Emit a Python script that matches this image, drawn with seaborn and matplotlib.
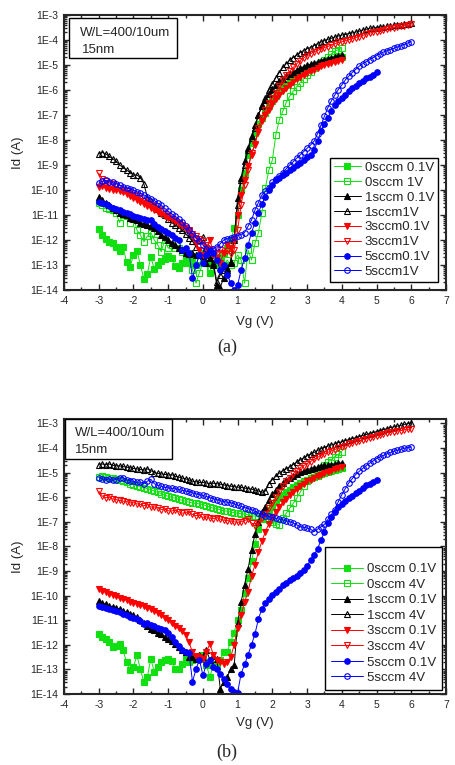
import numpy as np
import matplotlib
matplotlib.use("Agg")
import matplotlib.pyplot as plt
import seaborn as sns
from matplotlib.ticker import MultipleLocator, LogLocator, NullFormatter, FuncFormatter, FixedLocator
from matplotlib.patches import Rectangle

sns.set_style("ticks")
plt.rcParams['font.family'] = ['Liberation Sans', 'DejaVu Sans']
plt.rcParams['axes.unicode_minus'] = False

# gate-voltage grids (measurement sweep, 0.1 V step)
vg_to4 = np.round(np.arange(-3.0, 4.05, 0.1), 1)
vg_to5 = np.round(np.arange(-3.0, 5.05, 0.1), 1)
vg_to6 = np.round(np.arange(-3.0, 6.05, 0.1), 1)

# ---------------- panel (a): log10(Id / A) ----------------
a_0sccm_01V = [-11.57, -11.8, -11.95, -12.07, -12.13, -12.27, -12.43, -12.27, -12.87, -13.09,
               -12.6, -12.43, -13.0, -13.55, -13.36, -12.67, -13.17, -13.0, -12.85, -12.77,
               -12.64, -12.7, -13.04, -13.1, -12.9, -12.8, -12.9, -12.7, -13.0, -12.6,
               -12.5, -12.9, -13.3, -12.9, -13.0, -12.75, -12.5, -12.33, -12.0, -11.53,
               -11.0, -10.0, -9.3, -8.6, -8.1, -7.7, -7.35, -7.1, -6.9, -6.65,
               -6.45, -6.25, -6.05, -5.9, -5.78, -5.67, -5.53, -5.4, -5.3, -5.2,
               -5.13, -5.08, -5.03, -4.98, -4.93, -4.88, -4.83, -4.78, -4.74, -4.7,
               -4.67]
a_0sccm_1V = [-10.5, -10.6, -10.7, -10.75, -10.8, -10.93, -11.3, -11.0, -11.05, -11.3,
              -11.07, -11.6, -11.8, -12.07, -11.85, -11.7, -12.0, -12.2, -12.47, -12.0,
              -12.33, -12.2, -12.33, -12.3, -12.47, -12.73, -12.5, -13.2, -13.73, -13.3,
              -12.9, -12.8, -13.1, -12.9, -12.67, -12.9, -13.0, -12.8, -13.0, -12.9,
              -12.6, -12.8, -13.73, -12.4, -12.8, -12.13, -11.7, -10.9, -9.9, -9.2,
              -8.8, -7.8, -7.2, -6.85, -6.5, -6.25, -6.05, -5.87, -5.7, -5.55,
              -5.4, -5.27, -5.13, -5.0, -4.88, -4.78, -4.68, -4.55, -4.45, -4.38,
              -4.33]
a_1sccm_01V = [-10.27, -10.4, -10.5, -10.6, -10.7, -10.8, -10.9, -10.95, -11.0, -11.1,
               -11.15, -11.2, -11.3, -11.35, -11.4, -11.45, -11.5, -11.65, -11.8, -11.87,
               -12.0, -12.1, -12.2, -12.3, -12.4, -12.5, -12.55, -12.5, -12.6, -12.6,
               -12.65, -12.9, -12.7, -13.0, -13.8, -13.9, -13.5, -13.2, -12.87, -12.0,
               -10.3, -9.5, -8.85, -8.3, -7.85, -7.4, -7.0, -6.65, -6.4, -6.15,
               -5.95, -5.78, -5.65, -5.55, -5.45, -5.35, -5.27, -5.2, -5.13, -5.07,
               -5.02, -4.97, -4.92, -4.87, -4.83, -4.78, -4.74, -4.7, -4.67, -4.63,
               -4.6]
a_1sccm_1V = [-8.56, -8.5, -8.55, -8.65, -8.75, -8.85, -9.0, -9.1, -9.2, -9.3,
              -9.4, -9.4, -9.5, -9.75, -10.3, -10.45, -10.6, -10.75, -10.9, -11.0,
              -11.15, -11.3, -11.4, -11.5, -11.6, -11.75, -11.9, -12.05, -12.27, -12.0,
              -11.87, -12.3, -12.6, -12.9, -13.67, -13.4, -13.2, -13.13, -12.9, -11.9,
              -10.6, -9.6, -9.0, -8.4, -7.9, -7.5, -7.0, -6.6, -6.3, -6.0,
              -5.75, -5.5, -5.3, -5.1, -4.95, -4.8, -4.7, -4.6, -4.5, -4.42,
              -4.35, -4.3, -4.22, -4.15, -4.08, -4.03, -3.97, -3.93, -3.88, -3.84,
              -3.8, -3.78, -3.74, -3.72, -3.68, -3.65, -3.6, -3.57, -3.53, -3.52,
              -3.5, -3.48, -3.47, -3.45, -3.43, -3.41, -3.4, -3.38, -3.36, -3.34,
              -3.33]
a_3sccm_01V = [-9.87, -9.85, -9.9, -9.95, -9.98, -10.0, -10.05, -10.07, -10.15, -10.25,
               -10.3, -10.38, -10.47, -10.55, -10.62, -10.7, -10.78, -10.87, -10.95, -11.02,
               -11.1, -11.15, -11.22, -11.3, -11.4, -11.5, -11.6, -11.85, -12.1, -12.4,
               -12.6, -12.3, -12.0, -12.5, -12.7, -12.9, -12.5, -12.2, -12.3, -12.0,
               -11.0, -10.2, -9.6, -9.05, -8.6, -8.15, -7.67, -7.25, -7.0, -6.78,
               -6.55, -6.35, -6.2, -6.02, -5.9, -5.78, -5.67, -5.57, -5.48, -5.4,
               -5.33, -5.25, -5.18, -5.12, -5.06, -5.0, -4.95, -4.9, -4.86, -4.83,
               -4.8]
a_3sccm_1V = [-9.33, -9.55, -9.65, -9.72, -9.78, -9.85, -9.92, -9.98, -10.05, -10.12,
              -10.18, -10.25, -10.33, -10.42, -10.5, -10.58, -10.65, -10.75, -10.85, -10.95,
              -11.05, -11.15, -11.25, -11.35, -11.45, -11.55, -11.65, -11.75, -11.85, -11.95,
              -12.05, -12.2, -12.35, -12.6, -12.55, -12.4, -12.5, -12.45, -12.55, -12.4,
              -11.6, -10.6, -9.8, -9.2, -8.5, -8.2, -7.5, -7.1, -6.8, -6.5,
              -6.3, -6.1, -5.85, -5.6, -5.4, -5.25, -5.1, -4.95, -4.82, -4.72,
              -4.63, -4.55, -4.47, -4.42, -4.36, -4.3, -4.26, -4.2, -4.15, -4.1,
              -4.07, -4.03, -3.99, -3.95, -3.9, -3.86, -3.82, -3.77, -3.73, -3.69,
              -3.66, -3.62, -3.6, -3.57, -3.53, -3.5, -3.47, -3.45, -3.42, -3.4,
              -3.37]
a_5sccm_01V = [-10.47, -10.5, -10.57, -10.63, -10.7, -10.75, -10.8, -10.87, -10.92, -10.97,
               -11.02, -11.08, -11.13, -11.15, -11.2, -11.2, -11.35, -11.47, -11.55, -11.62,
               -11.7, -11.8, -11.9, -12.0, -12.4, -12.3, -12.5, -13.53, -13.0, -12.6,
               -12.93, -12.6, -12.4, -12.5, -12.8, -13.2, -13.0, -13.4, -13.7, -14.0,
               -13.8, -13.2, -12.7, -12.2, -11.7, -11.3, -10.9, -10.55, -10.27, -10.0,
               -9.8, -9.62, -9.5, -9.4, -9.3, -9.2, -9.1, -9.0, -8.9, -8.8,
               -8.7, -8.58, -8.4, -8.05, -7.65, -7.35, -7.1, -6.82, -6.6, -6.45,
               -6.32, -6.18, -6.05, -5.93, -5.83, -5.72, -5.62, -5.53, -5.47, -5.38,
               -5.29]
a_5sccm_1V = [-9.73, -9.65, -9.62, -9.67, -9.7, -9.75, -9.8, -9.87, -9.9, -9.95,
              -10.0, -10.07, -10.13, -10.2, -10.27, -10.35, -10.42, -10.53, -10.6, -10.73,
              -10.85, -10.95, -11.05, -11.15, -11.27, -11.45, -11.6, -11.75, -11.9, -12.05,
              -12.2, -12.35, -12.47, -12.35, -12.27, -12.15, -12.0, -11.95, -11.9, -11.87,
              -11.82, -11.78, -11.7, -11.45, -11.2, -10.8, -10.5, -10.2, -10.05, -9.9,
              -9.7, -9.57, -9.43, -9.3, -9.15, -9.0, -8.87, -8.73, -8.6, -8.47,
              -8.33, -8.2, -8.05, -7.75, -7.4, -7.05, -6.7, -6.43, -6.2, -5.98,
              -5.8, -5.6, -5.45, -5.3, -5.18, -5.05, -4.95, -4.87, -4.78, -4.7,
              -4.62, -4.55, -4.48, -4.43, -4.38, -4.33, -4.28, -4.23, -4.18, -4.12,
              -4.07]

# ---------------- panel (b): log10(Id / A) ----------------
b_0sccm_01V = [-11.56, -11.7, -11.76, -11.9, -12.1, -12.03, -11.95, -12.23, -12.7, -13.04,
               -12.9, -12.43, -13.0, -13.51, -13.31, -12.57, -13.1, -12.9, -12.7, -12.6,
               -12.57, -12.65, -12.97, -13.0, -12.8, -12.5, -12.7, -12.6, -12.5, -12.57,
               -12.4, -12.83, -13.3, -12.83, -12.83, -12.6, -12.3, -12.3, -11.87, -11.5,
               -11.0, -10.6, -9.9, -9.3, -8.6, -7.9, -7.3, -6.9, -6.65, -6.5,
               -6.35, -6.2, -6.05, -5.92, -5.8, -5.7, -5.6, -5.51, -5.43, -5.36,
               -5.29, -5.23, -5.17, -5.12, -5.07, -5.02, -4.98, -4.94, -4.9, -4.86,
               -4.83]
b_0sccm_4V = [-5.16, -5.15, -5.18, -5.2, -5.23, -5.27, -5.29, -5.33, -5.4, -5.45,
              -5.49, -5.53, -5.57, -5.61, -5.65, -5.69, -5.75, -5.8, -5.85, -5.92,
              -5.96, -6.0, -6.04, -6.08, -6.13, -6.16, -6.2, -6.23, -6.25, -6.27,
              -6.3, -6.35, -6.4, -6.45, -6.47, -6.51, -6.55, -6.57, -6.6, -6.63,
              -6.65, -6.67, -6.69, -6.72, -6.75, -6.77, -6.8, -6.83, -6.87, -6.93,
              -7.0, -7.07, -7.12, -6.85, -6.65, -6.45, -6.25, -6.05, -5.8, -5.55,
              -5.35, -5.2, -5.07, -4.95, -4.83, -4.7, -4.57, -4.47, -4.35, -4.25,
              -4.15]
b_1sccm_01V = [-10.21, -10.3, -10.35, -10.41, -10.45, -10.5, -10.55, -10.61, -10.68, -10.75,
               -10.8, -10.88, -10.98, -11.1, -11.25, -11.35, -11.4, -11.5, -11.56, -11.7,
               -11.76, -11.85, -11.96, -12.1, -12.2, -12.3, -12.5, -12.5, -12.57, -12.4,
               -12.5, -12.23, -12.6, -12.45, -12.57, -13.78, -13.51, -13.3, -13.0, -12.84,
               -11.1, -10.27, -9.55, -8.92, -8.15, -7.5, -7.0, -6.6, -6.4, -6.1,
               -5.88, -5.7, -5.55, -5.42, -5.3, -5.2, -5.12, -5.05, -4.98, -4.93,
               -4.88, -4.84, -4.8, -4.77, -4.74, -4.71, -4.69, -4.67, -4.65, -4.62,
               -4.6]
b_1sccm_4V = [-4.69, -4.65, -4.67, -4.65, -4.7, -4.72, -4.73, -4.75, -4.78, -4.8,
              -4.83, -4.85, -4.87, -4.9, -4.85, -4.92, -5.0, -5.03, -5.05, -5.07,
              -5.1, -5.08, -5.15, -5.18, -5.22, -5.25, -5.3, -5.35, -5.37, -5.4,
              -5.4, -5.42, -5.45, -5.43, -5.45, -5.47, -5.5, -5.53, -5.55, -5.57,
              -5.59, -5.6, -5.63, -5.65, -5.67, -5.71, -5.75, -5.8, -5.75, -5.45,
              -5.28, -5.15, -5.02, -4.92, -4.85, -4.76, -4.67, -4.58, -4.49, -4.4,
              -4.32, -4.25, -4.18, -4.1, -4.03, -3.98, -3.92, -3.87, -3.83, -3.78,
              -3.75, -3.7, -3.66, -3.62, -3.58, -3.54, -3.49, -3.45, -3.41, -3.37,
              -3.33, -3.29, -3.25, -3.21, -3.17, -3.14, -3.11, -3.08, -3.04, -3.01,
              -2.98]
b_3sccm_01V = [-9.73, -9.8, -9.87, -9.94, -9.98, -10.03, -10.08, -10.14, -10.18, -10.24,
               -10.29, -10.34, -10.39, -10.44, -10.49, -10.54, -10.62, -10.7, -10.8, -10.9,
               -11.0, -11.1, -11.22, -11.32, -11.45, -11.6, -11.9, -12.3, -12.45, -12.5,
               -12.57, -12.3, -11.96, -12.4, -12.6, -12.7, -12.8, -12.7, -12.5, -12.0,
               -11.3, -10.8, -10.25, -9.85, -9.2, -8.75, -8.21, -7.78, -7.4, -7.07,
               -6.8, -6.6, -6.38, -6.2, -6.06, -5.92, -5.78, -5.65, -5.55, -5.45,
               -5.36, -5.28, -5.21, -5.14, -5.08, -5.02, -4.96, -4.92, -4.87, -4.82,
               -4.77]
b_3sccm_4V = [-5.75, -5.95, -6.02, -6.0, -6.07, -6.1, -6.13, -6.16, -6.18, -6.23,
              -6.22, -6.27, -6.29, -6.35, -6.3, -6.4, -6.4, -6.42, -6.5, -6.48,
              -6.55, -6.56, -6.53, -6.59, -6.65, -6.62, -6.6, -6.7, -6.75, -6.73,
              -6.82, -6.8, -6.85, -6.87, -6.83, -6.89, -6.93, -6.95, -6.97, -7.0,
              -7.02, -7.0, -6.95, -6.89, -7.05, -7.16, -7.05, -6.85, -6.7, -6.45,
              -6.25, -6.0, -5.77, -5.55, -5.35, -5.2, -5.05, -4.92, -4.8, -4.72,
              -4.63, -4.55, -4.45, -4.38, -4.3, -4.23, -4.18, -4.12, -4.06, -4.01,
              -3.97, -3.92, -3.85, -3.8, -3.75, -3.71, -3.67, -3.63, -3.59, -3.55,
              -3.51, -3.47, -3.42, -3.38, -3.35, -3.33, -3.31, -3.29, -3.26, -3.24,
              -3.22]
b_5sccm_01V = [-10.41, -10.45, -10.5, -10.54, -10.58, -10.62, -10.68, -10.75, -10.8, -10.85,
               -10.9, -10.95, -11.05, -11.15, -11.1, -11.18, -11.22, -11.3, -11.35, -11.4,
               -11.5, -11.7, -11.9, -12.05, -12.2, -12.3, -12.35, -13.5, -13.0, -12.6,
               -13.24, -12.8, -12.6, -12.9, -13.0, -13.17, -13.4, -13.6, -13.8, -13.92,
               -13.95, -13.17, -12.8, -12.4, -12.0, -11.55, -10.94, -10.54, -10.3, -10.15,
               -9.98, -9.85, -9.72, -9.58, -9.48, -9.38, -9.3, -9.2, -9.08, -8.95,
               -8.8, -8.55, -8.35, -8.1, -7.75, -7.4, -7.05, -6.8, -6.59, -6.4,
               -6.27, -6.15, -6.05, -5.94, -5.84, -5.73, -5.62, -5.52, -5.46, -5.4,
               -5.31]
b_5sccm_4V = [-5.2, -5.25, -5.3, -5.25, -5.32, -5.28, -5.22, -5.2, -5.3, -5.33,
              -5.35, -5.4, -5.38, -5.45, -5.35, -5.27, -5.45, -5.52, -5.55, -5.6,
              -5.62, -5.64, -5.66, -5.68, -5.72, -5.75, -5.78, -5.82, -5.86, -5.9,
              -5.93, -5.97, -6.02, -6.06, -6.1, -6.14, -6.18, -6.2, -6.22, -6.27,
              -6.32, -6.37, -6.42, -6.46, -6.5, -6.58, -6.64, -6.7, -6.75, -6.78,
              -6.82, -6.86, -6.89, -6.92, -6.96, -6.99, -7.05, -7.12, -7.2, -7.22,
              -7.25, -7.3, -7.4, -7.3, -7.2, -7.1, -6.9, -6.7, -6.5, -6.18,
              -5.9, -5.65, -5.42, -5.25, -5.08, -4.95, -4.83, -4.72, -4.62, -4.52,
              -4.43, -4.36, -4.3, -4.23, -4.18, -4.13, -4.09, -4.05, -4.01, -3.98,
              -3.96]

labels_a = ["0sccm 0.1V", "0sccm 1V", "1sccm 0.1V", "1sccm1V",
            "3sccm0.1V", "3sccm1V", "5sccm0.1V", "5sccm1V"]
labels_b = ["0sccm 0.1V", "0sccm 4V", "1sccm 0.1V", "1sccm 4V",
            "3sccm 0.1V", "3sccm 4V", "5sccm 0.1V", "5sccm 4V"]

GREEN, BLACK, RED, BLUE = "#10e010", "#000000", "#ff0000", "#0000ff"
styles = [(GREEN, "s", True), (GREEN, "s", False), (BLACK, "^", True), (BLACK, "^", False),
          (RED, "v", True), (RED, "v", False), (BLUE, "o", True), (BLUE, "o", False)]

series_a = [(vg_to4, a_0sccm_01V), (vg_to4, a_0sccm_1V), (vg_to4, a_1sccm_01V), (vg_to6, a_1sccm_1V),
            (vg_to4, a_3sccm_01V), (vg_to6, a_3sccm_1V), (vg_to5, a_5sccm_01V), (vg_to6, a_5sccm_1V)]
series_b = [(vg_to4, b_0sccm_01V), (vg_to4, b_0sccm_4V), (vg_to4, b_1sccm_01V), (vg_to6, b_1sccm_4V),
            (vg_to4, b_3sccm_01V), (vg_to6, b_3sccm_4V), (vg_to5, b_5sccm_01V), (vg_to6, b_5sccm_4V)]

W, H = 455, 765
fig = plt.figure(figsize=(W / 100, H / 100), dpi=100)


def px_axes(x0, x1, y0, y1):
    return fig.add_axes([x0 / W, 1 - y1 / H, (x1 - x0) / W, (y1 - y0) / H])


def draw(ax, series, labels, ytop):
    for (x, ly), lab, (c, m, filled) in zip(series, labels, styles):
        sns.lineplot(x=x, y=10 ** np.asarray(ly), ax=ax, color=c, marker=m,
                     markersize=4.2 if m != "o" else 4.0,
                     markerfacecolor=c if filled else "none", markeredgecolor=c,
                     markeredgewidth=0.8, linewidth=0.7, label=lab, sort=False,
                     estimator=None)
    ax.set_yscale("log")
    ax.set_xlim(-4, 7)
    ax.set_ylim(1e-14, ytop)
    ax.yaxis.set_major_locator(FixedLocator([10.0 ** -k for k in range(3, 15)]))
    ax.yaxis.set_major_formatter(FuncFormatter(lambda v, p: "1E-%d" % int(round(-np.log10(v)))))
    ax.yaxis.set_minor_locator(LogLocator(base=10, subs=np.arange(2, 10), numticks=30))
    ax.yaxis.set_minor_formatter(NullFormatter())
    ax.xaxis.set_major_locator(MultipleLocator(1))
    ax.xaxis.set_minor_locator(MultipleLocator(0.5))
    ax.tick_params(which="both", direction="in", top=True, right=True, width=1.0)
    ax.tick_params(which="major", length=4, labelsize=7.5, pad=4)
    ax.tick_params(which="minor", length=2)
    for s in ax.spines.values():
        s.set_linewidth(1.5)
    ax.set_xlabel("Vg (V)", fontsize=9.5)
    ax.set_ylabel("Id (A)", fontsize=9.5)
    ax.grid(False)


# ---- panel (a)
axa = px_axes(64, 446, 15, 290)
draw(axa, series_a, labels_a, 1e-3)
axa.xaxis.set_label_coords(0.5, -0.095)
axa.yaxis.set_label_coords(-0.105, 0.5)
leg = axa.legend(loc="lower right", bbox_to_anchor=(0.979, 0.029), fontsize=9.5,
                 frameon=True, fancybox=False, framealpha=1, edgecolor="black",
                 handlelength=2.0, handletextpad=0.3, labelspacing=0.2,
                 borderpad=0.3, borderaxespad=0)
leg.get_frame().set_linewidth(1.0)
axa.add_patch(Rectangle((0.013, 0.844), 0.283, 0.145, transform=axa.transAxes,
                        facecolor="white", edgecolor="black", lw=1.0, zorder=5))
axa.text(0.042, 0.935, "W/L=400/10um", transform=axa.transAxes, fontsize=9.5,
         va="center", ha="left", zorder=6)
axa.text(0.046, 0.873, "15nm", transform=axa.transAxes, fontsize=9.5,
         va="center", ha="left", zorder=6)

# ---- panel (b)
axb = px_axes(64, 446, 419, 694)
draw(axb, series_b, labels_b, 10 ** -2.82)
axb.xaxis.set_label_coords(0.5, -0.084)
axb.yaxis.set_label_coords(-0.105, 0.5)
leg = axb.legend(loc="lower right", bbox_to_anchor=(0.99, 0.0145), fontsize=9.5,
                 frameon=True, fancybox=False, framealpha=1, edgecolor="black",
                 handlelength=2.4, handletextpad=0.3, labelspacing=0.25,
                 borderpad=0.45, borderaxespad=0, title=" ", title_fontsize=6)
leg.get_frame().set_linewidth(1.0)
axb.add_patch(Rectangle((0.003, 0.855), 0.28, 0.145, transform=axb.transAxes,
                        facecolor="white", edgecolor="black", lw=1.0, zorder=5))
axb.text(0.029, 0.948, "W/L=400/10um", transform=axb.transAxes, fontsize=9.5,
         va="center", ha="left", zorder=6)
axb.text(0.029, 0.887, "15nm", transform=axb.transAxes, fontsize=9.5,
         va="center", ha="left", zorder=6)

fig.text(227 / W, 1 - 347 / H, "(a)", ha="center", va="center", fontsize=13,
         family=["Liberation Serif", "DejaVu Serif"])
fig.text(227 / W, 1 - 752 / H, "(b)", ha="center", va="center", fontsize=13,
         family=["Liberation Serif", "DejaVu Serif"])

fig.savefig("out.png", dpi=100)
